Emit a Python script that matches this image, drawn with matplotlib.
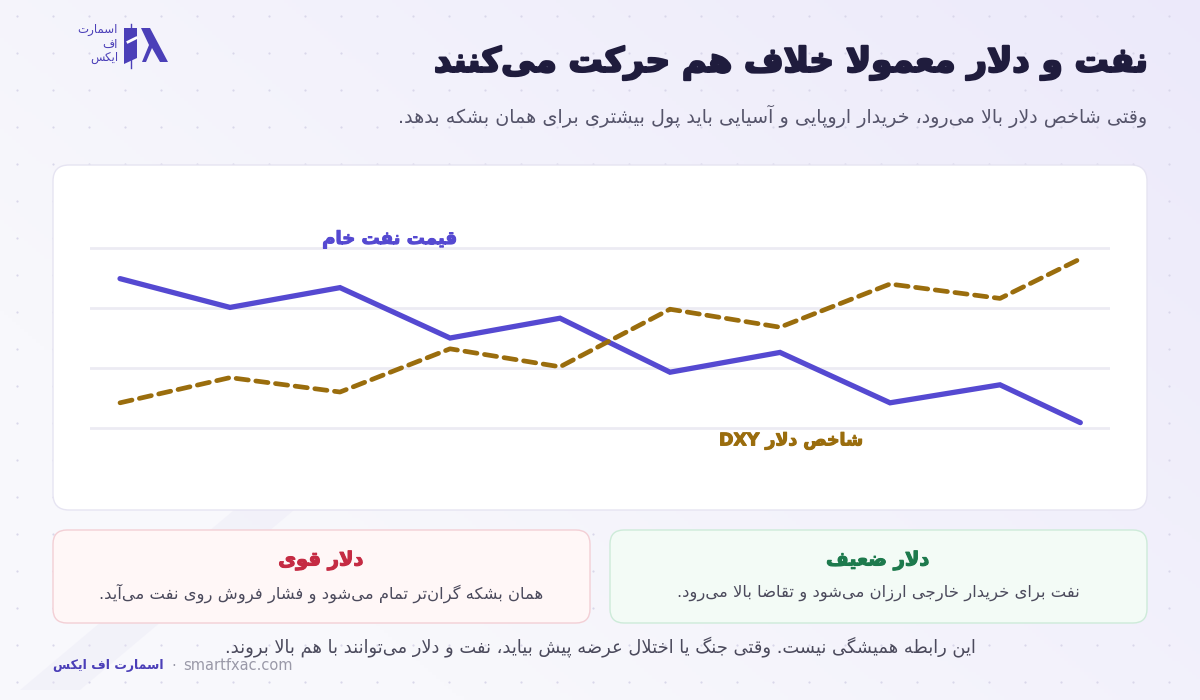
import re
import numpy as np
import matplotlib.pyplot as plt
import matplotlib.patheffects as pe
from matplotlib.patches import FancyBboxPatch, Polygon
from matplotlib.lines import Line2D

# ---- data (chart values, index scale 0-100) ----
steps = [0, 1, 2, 3, 4, 5, 6, 7, 8, 8.73]
oil = [83, 67, 78, 50, 61, 31, 42, 14, 24, 3]
dxy = [14, 28, 20, 44, 34, 66, 56, 80, 72, 94]
grid_vals = [0, 33.3, 66.7, 100]

title = "نفت و دلار معمولا خلاف هم حرکت می\u200cکنند"
subtitle = "وقتی شاخص دلار بالا می\u200cرود، خریدار اروپایی و آسیایی باید پول بیشتری برای همان بشکه بدهد."
oil_label = "قیمت نفت خام"
dxy_label = "شاخص دلار DXY"
card_titles = ["دلار قوی", "دلار ضعیف"]
card_texts = ["همان بشکه گران\u200cتر تمام می\u200cشود و فشار فروش روی نفت می\u200cآید.",
              "نفت برای خریدار خارجی ارزان می\u200cشود و تقاضا بالا می\u200cرود."]
note = "این رابطه همیشگی نیست. وقتی جنگ یا اختلال عرضه پیش بیاید، نفت و دلار می\u200cتوانند با هم بالا بروند."
brand = "اسمارت اف ایکس"
site = "smartfxac.com"
logo_lines = ["اسمارت", "اف", "ایکس"]

# ---- tiny persian shaper (matplotlib has no arabic shaping) ----
# isolated, final, initial, medial
FORMS = {
    'ا': ('\uFE8D', '\uFE8E', None, None), 'آ': ('\uFE81', '\uFE82', None, None),
    'ب': ('\uFE8F', '\uFE90', '\uFE91', '\uFE92'), 'پ': ('\uFB56', '\uFB57', '\uFB58', '\uFB59'),
    'ت': ('\uFE95', '\uFE96', '\uFE97', '\uFE98'), 'ث': ('\uFE99', '\uFE9A', '\uFE9B', '\uFE9C'),
    'ج': ('\uFE9D', '\uFE9E', '\uFE9F', '\uFEA0'), 'چ': ('\uFB7A', '\uFB7B', '\uFB7C', '\uFB7D'),
    'ح': ('\uFEA1', '\uFEA2', '\uFEA3', '\uFEA4'), 'خ': ('\uFEA5', '\uFEA6', '\uFEA7', '\uFEA8'),
    'د': ('\uFEA9', '\uFEAA', None, None), 'ذ': ('\uFEAB', '\uFEAC', None, None),
    'ر': ('\uFEAD', '\uFEAE', None, None), 'ز': ('\uFEAF', '\uFEB0', None, None),
    'ژ': ('\uFB8A', '\uFB8B', None, None),
    'س': ('\uFEB1', '\uFEB2', '\uFEB3', '\uFEB4'), 'ش': ('\uFEB5', '\uFEB6', '\uFEB7', '\uFEB8'),
    'ص': ('\uFEB9', '\uFEBA', '\uFEBB', '\uFEBC'), 'ض': ('\uFEBD', '\uFEBE', '\uFEBF', '\uFEC0'),
    'ط': ('\uFEC1', '\uFEC2', '\uFEC3', '\uFEC4'), 'ظ': ('\uFEC5', '\uFEC6', '\uFEC7', '\uFEC8'),
    'ع': ('\uFEC9', '\uFECA', '\uFECB', '\uFECC'), 'غ': ('\uFECD', '\uFECE', '\uFECF', '\uFED0'),
    'ف': ('\uFED1', '\uFED2', '\uFED3', '\uFED4'), 'ق': ('\uFED5', '\uFED6', '\uFED7', '\uFED8'),
    'ک': ('\uFB8E', '\uFB8F', '\uFB90', '\uFB91'), 'گ': ('\uFB92', '\uFB93', '\uFB94', '\uFB95'),
    'ل': ('\uFEDD', '\uFEDE', '\uFEDF', '\uFEE0'), 'م': ('\uFEE1', '\uFEE2', '\uFEE3', '\uFEE4'),
    'ن': ('\uFEE5', '\uFEE6', '\uFEE7', '\uFEE8'), 'و': ('\uFEED', '\uFEEE', None, None),
    'ه': ('\uFEE9', '\uFEEA', '\uFEEB', '\uFEEC'), 'ی': ('\uFBFC', '\uFBFD', '\uFBFE', '\uFBFF'),
    'ي': ('\uFEF1', '\uFEF2', '\uFEF3', '\uFEF4'), 'ئ': ('\uFE89', '\uFE8A', '\uFE8B', '\uFE8C'),
}
LAMALEF = {'ا': ('\uFEFB', '\uFEFC'), 'آ': ('\uFEF5', '\uFEF6')}


def fa(s):
    out = []
    i = 0
    n = len(s)
    while i < n:
        c = s[i]
        if c not in FORMS:
            if c != '\u200c':
                out.append(c)
            i += 1
            continue
        prev = s[i - 1] if i > 0 else ''
        nxt = s[i + 1] if i + 1 < n else ''
        cp = prev in FORMS and FORMS[prev][2] is not None
        if c == 'ل' and nxt in LAMALEF:
            out.append(LAMALEF[nxt][1 if cp else 0])
            i += 2
            continue
        cn = FORMS[c][2] is not None and nxt in FORMS
        f = FORMS[c]
        if cp and cn:
            out.append(f[3])
        elif cp:
            out.append(f[1])
        elif cn:
            out.append(f[2])
        else:
            out.append(f[0])
        i += 1
    vis = ''.join(out)[::-1]
    # keep latin runs left-to-right
    return re.sub(r'[A-Za-z0-9][A-Za-z0-9.]*', lambda m: m.group(0)[::-1], vis)


def heavy(color, w=1.0):
    return [pe.withStroke(linewidth=w, foreground=color)]


plt.rcParams['font.family'] = ['DejaVu Sans']

W, H = 1200, 700
fig = plt.figure(figsize=(12, 7), dpi=100)

# background: soft lavender gradient + dot grid
bg = fig.add_axes([0, 0, 1, 1])
bg.set_xlim(0, W)
bg.set_ylim(H, 0)
bg.axis('off')
gx, gy = np.meshgrid(np.linspace(0, 1, 300), np.linspace(0, 1, 200))
t = np.clip(0.65 * gx + 0.45 * (1 - gy) - 0.25, 0, 1)
c0 = np.array([248, 248, 252]) / 255
c1 = np.array([234, 231, 250]) / 255
img = c0 + (c1 - c0) * t[..., None]
bg.imshow(img, extent=[0, W, H, 0], aspect='auto', zorder=0)
dx, dy = np.meshgrid(np.arange(17, W, 36), np.arange(16, H, 37))
bg.scatter(dx.ravel(), dy.ravel(), s=2.5, color='#d9d7ea', lw=0, zorder=1)
bg.add_patch(Polygon([[240, 505], [300, 505], [80, 690], [20, 690]], closed=True,
                     fc='#e9e7f6', ec='none', alpha=0.35, zorder=1))

# logo
bg.add_patch(Polygon([[124, 28], [137, 28], [137, 58], [124, 64]], closed=True, fc='#4b3fb8', ec='none', zorder=3))
bg.add_line(Line2D([131, 131], [24, 68], color='#4b3fb8', lw=1, zorder=3))
bg.add_line(Line2D([128, 136], [42, 38], color='white', lw=2, zorder=4))
bg.add_patch(Polygon([[141, 28], [150, 28], [168, 62], [160, 62], [152, 48], [146, 62], [142, 62], [149, 45]],
                     closed=True, fc='#4b3fb8', ec='none', zorder=3))
for k, s in enumerate(logo_lines):
    bg.text(118, 30 + k * 14, fa(s), ha='right', va='center', fontsize=8.5, color='#4b3fb8', zorder=3)

# title and subtitle
bg.text(1147, 63, fa(title), ha='right', va='center', fontsize=24.5, fontweight='bold', color='#1f1c3d',
        path_effects=heavy('#1f1c3d', 1.6), zorder=3)
bg.text(1147, 116, fa(subtitle), ha='right', va='center', fontsize=13.8, color='#55546a', zorder=3)

# chart card
bg.add_patch(FancyBboxPatch((53, 165), 1094, 345, boxstyle='round,pad=0,rounding_size=16',
                            fc='white', ec='#e6e4f2', lw=1, zorder=2))

ax = fig.add_axes([90 / W, 1 - 500 / H, 1020 / W, 320 / H])
ax.set_xlim(-0.273, 9.0)
ax.set_ylim(-40, 137.8)
ax.patch.set_alpha(0)
for sp in ax.spines.values():
    sp.set_visible(False)
ax.set_xticks([])
ax.set_yticks(grid_vals)
ax.tick_params(left=False, labelleft=False)
ax.grid(axis='y', color='#ecebf3', lw=2)
ax.plot(steps, oil, color='#5549d1', lw=3.8, solid_capstyle='round', solid_joinstyle='miter', zorder=3)
ax.plot(steps, dxy, color='#9a6d0d', lw=3.4, dashes=(2.6, 1.6), dash_capstyle='round', zorder=3)
ax.text(2.45, 105, fa(oil_label), ha='center', va='center', fontsize=13, fontweight='bold', color='#5549d1',
        path_effects=heavy('#5549d1', 0.8))
ax.text(6.1, -7, fa(dxy_label), ha='center', va='center', fontsize=12.5, fontweight='bold', color='#9a6d0d',
        path_effects=heavy('#9a6d0d', 0.8))

# cards
cards = [(53, '#fff7f7', '#f3cfd5', '#c52b43'), (610, '#f3fbf6', '#cdebd9', '#1d7a4d')]
for k, (x0, fc, ec, tc) in enumerate(cards):
    bg.add_patch(FancyBboxPatch((x0, 530), 537, 93, boxstyle='round,pad=0,rounding_size=14',
                                fc=fc, ec=ec, lw=1, zorder=2))
    bg.text(x0 + 268, 561, fa(card_titles[k]), ha='center', va='center', fontsize=14,
            fontweight='bold', color=tc, path_effects=heavy(tc, 0.8), zorder=3)
    bg.text(x0 + 268, 593, fa(card_texts[k]), ha='center', va='center', fontsize=11.8,
            color='#4b4a5c', zorder=3)

# footer
bg.text(600, 647, fa(note), ha='center', va='center', fontsize=12.9, color='#4b4a5c', zorder=3)
bg.text(53, 666, fa(brand), ha='left', va='center', fontsize=9, fontweight='bold', color='#4b3fb8', zorder=3)
bg.text(171, 666, '·', ha='left', va='center', fontsize=10.5, color='#9a99a8', zorder=3)
bg.text(183, 666, site, ha='left', va='center', fontsize=10.5, color='#9a99a8', zorder=3)

fig.savefig('out.png', dpi=100)
